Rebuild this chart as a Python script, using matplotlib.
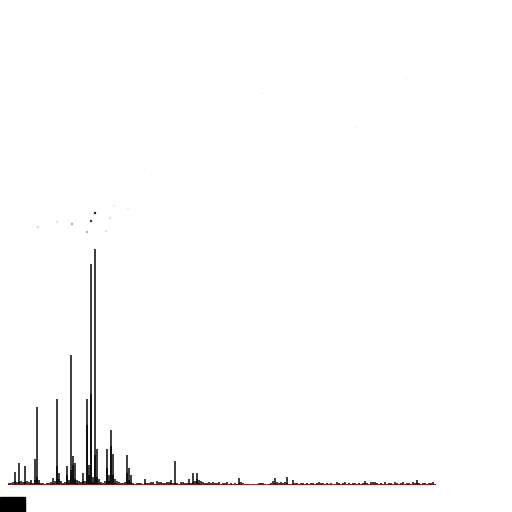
import numpy as np
import matplotlib.pyplot as plt
from matplotlib.patches import Rectangle

# counts per bin, first series (the tall one)
counts_a = [2, 2, 3, 13, 3, 22, 4, 3, 19, 4,
            3, 5, 2, 26, 78, 5, 2, 2, 1, 2,
            2, 3, 7, 4, 86, 12, 4, 2, 3, 19,
            5, 130, 29, 22, 5, 4, 3, 12, 4, 86,
            20, 221, 8, 236, 36, 6, 3, 2, 4, 36,
            10, 55, 31, 6, 4, 3, 2, 2, 3, 30,
            17, 10, 2, 1, 2, 2, 2, 1, 6, 2,
            2, 3, 3, 1, 4, 3, 3, 2, 2, 3,
            3, 5, 2, 24, 2, 1, 3, 3, 2, 2,
            6, 2, 12, 4, 12, 5, 4, 3, 2, 2,
            3, 2, 3, 2, 2, 3, 1, 2, 2, 3,
            1, 2, 1, 2, 1, 7, 3, 2, 1, 1,
            1, 0, 1, 0, 1, 2, 2, 2, 1, 0,
            1, 2, 4, 7, 3, 2, 3, 2, 3, 8,
            1, 1, 5, 2, 2, 1, 2, 2, 1, 2,
            1, 2, 2, 1, 2, 3, 2, 2, 1, 2,
            1, 2, 0, 1, 3, 2, 1, 2, 3, 1,
            2, 1, 2, 2, 1, 2, 1, 2, 4, 2,
            1, 3, 3, 3, 2, 1, 2, 1, 3, 1,
            2, 2, 1, 3, 2, 1, 2, 3, 1, 2,
            2, 1, 3, 2, 5, 2, 1, 2, 2, 1,
            2, 2, 3, 1]

# counts per bin, second series (overlaps the first)
counts_b = [1, 1, 1, 4, 1, 3, 1, 1, 3, 1,
            1, 2, 1, 5, 8, 2, 1, 1, 0, 1,
            1, 1, 2, 1, 19, 6, 1, 1, 1, 10,
            2, 15, 20, 6, 2, 1, 1, 4, 1, 60,
            10, 91, 3, 30, 8, 2, 1, 1, 1, 17,
            4, 39, 10, 2, 1, 1, 1, 1, 1, 12,
            5, 3, 1, 0, 1, 1, 1, 0, 2, 1,
            1, 1, 1, 0, 1, 1, 1, 1, 1, 1,
            1, 2, 1, 2, 1, 0, 1, 1, 1, 1,
            2, 1, 3, 1, 6, 2, 1, 1, 1, 1,
            1, 1, 0, 1, 1, 1, 0, 1, 1, 1,
            0, 1, 0, 1, 0, 2, 1, 1, 0, 0,
            0, 0, 0, 0, 0, 1, 1, 1, 0, 0,
            0, 1, 1, 2, 1, 1, 1, 1, 1, 2,
            0, 0, 1, 1, 1, 0, 1, 1, 0, 1,
            0, 1, 1, 0, 1, 1, 1, 1, 0, 1,
            0, 1, 0, 0, 1, 1, 0, 1, 1, 0,
            1, 0, 1, 1, 0, 1, 0, 1, 2, 1,
            0, 1, 1, 1, 1, 0, 1, 0, 1, 0,
            1, 1, 0, 1, 1, 0, 1, 1, 0, 1,
            1, 0, 1, 1, 2, 1, 0, 1, 1, 0,
            1, 1, 1, 0]

# faint scatter points above the bars (bin, value, alpha)
pts_x = [43.5, 41.5, 32, 39.5, 15, 24.5, 51, 49, 53, 60, 127, 199, 174, 72]
pts_y = [272, 264, 261, 253, 258, 263, 267, 254, 279, 276, 392, 407, 358, 310]
pts_a = [0.9, 0.8, 0.35, 0.3, 0.15, 0.12, 0.12, 0.12, 0.07, 0.07, 0.04, 0.04, 0.04, 0.04]

bins = np.arange(len(counts_a))

fig = plt.figure(figsize=(5.12, 5.12), dpi=100)
ax = fig.add_axes([0, 27 / 512, 1, 485 / 512])

ax.bar(bins, counts_a, width=0.9, align='edge', color='black', alpha=0.75, linewidth=0)
ax.bar(bins, counts_b, width=0.9, align='edge', color='black', alpha=0.75, linewidth=0)
ax.hlines(0, 0, len(bins) - 0.2, color='#8b1a1a', linewidth=1.2)

colors = [(0, 0, 0, a) for a in pts_a]
ax.scatter(pts_x, pts_y, s=3, c=colors, linewidths=0)

ax.set_xlim(-4, 252)
ax.set_ylim(0, 485)
ax.axis('off')

fig.patches.append(Rectangle((0, 0), 25 / 512, 15 / 512, transform=fig.transFigure,
                             color='black', zorder=10))

plt.savefig('out.png', dpi=100)
plt.close()
